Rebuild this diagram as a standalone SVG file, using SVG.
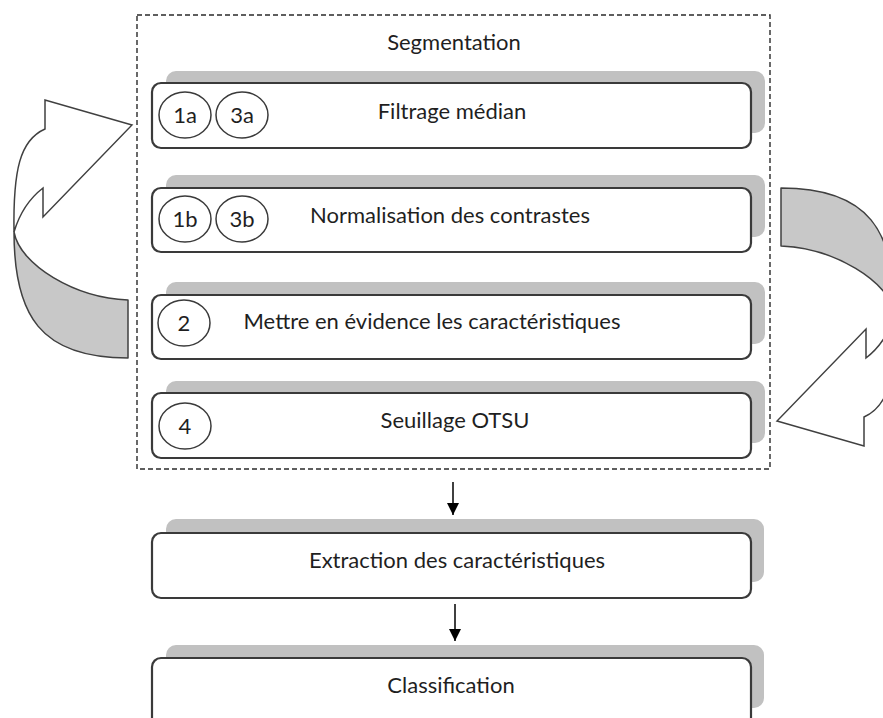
<svg xmlns="http://www.w3.org/2000/svg" width="883" height="718" viewBox="0 0 883 718">
<style>
  .shadow { fill: #c1c1c1; }
  .box { fill: #ffffff; stroke: #3a3a3a; stroke-width: 2.2; }
  .badge { fill: #ffffff; stroke: #3a3a3a; stroke-width: 1.5; }
  .lbl { font-family: Lato, "Liberation Sans", sans-serif; font-size: 22px; fill: #1f1f1f; text-anchor: middle; }
  .frame { fill: none; stroke: #2a2a2a; stroke-width: 1.4; stroke-dasharray: 5 3; }
  .conn { stroke: #000000; stroke-width: 1.5; fill: none; }
  .band-back { fill: #c8c8c8; stroke: #404040; stroke-width: 1.5; stroke-linejoin: round; }
  .band-front { fill: #ffffff; stroke: #404040; stroke-width: 1.5; stroke-linejoin: miter; }
</style>
<defs>
  <marker id="arrow" viewBox="0 0 12 12" refX="12" refY="6" markerWidth="12" markerHeight="12" markerUnits="userSpaceOnUse" orient="auto">
    <path d="M0,0 L12,6 L0,12 Z" fill="#000000"/>
  </marker>
  <g id="loop">
    <path class="band-back" d="M14,232 C14,315 40,358 128,358 L128,300 C75,298 20,265 14,232 Z"/>
    <path class="band-front" d="M132,125 L45,100 L45,129 C20,140 13,170 14,232 C20,212 30,198 43,188 L43,217 Z"/>
  </g>
</defs>
<rect width="883" height="718" fill="#ffffff"/>

<g id="segmentation">
  <rect class="frame" x="137" y="15" width="633" height="454"/>
  <text class="lbl" x="454" y="50">Segmentation</text>
</g>

<g id="n-filtrage">
  <rect class="shadow" x="166" y="71" width="599" height="62" rx="10"/>
  <rect class="box" x="152" y="83" width="599" height="65" rx="9"/>
  <ellipse class="badge" cx="185" cy="115" rx="26" ry="23"/>
  <text class="lbl" x="185" y="123">1a</text>
  <ellipse class="badge" cx="242" cy="115" rx="26" ry="23"/>
  <text class="lbl" x="242" y="123">3a</text>
  <text class="lbl" x="452" y="119">Filtrage médian</text>
</g>

<g id="n-normalisation">
  <rect class="shadow" x="166" y="175" width="599" height="62" rx="10"/>
  <rect class="box" x="152" y="188" width="599" height="64" rx="9"/>
  <ellipse class="badge" cx="185" cy="219" rx="26" ry="23"/>
  <text class="lbl" x="185" y="227">1b</text>
  <ellipse class="badge" cx="242" cy="219" rx="26" ry="23"/>
  <text class="lbl" x="242" y="227">3b</text>
  <text class="lbl" x="450" y="223">Normalisation des contrastes</text>
</g>

<g id="n-mettre">
  <rect class="shadow" x="166" y="282" width="599" height="62" rx="10"/>
  <rect class="box" x="152" y="295" width="599" height="64" rx="9"/>
  <ellipse class="badge" cx="184" cy="323" rx="26" ry="23"/>
  <text class="lbl" x="184" y="331">2</text>
  <text class="lbl" x="432" y="329">Mettre en évidence les caractéristiques</text>
</g>

<g id="n-seuillage">
  <rect class="shadow" x="166" y="381" width="599" height="62" rx="10"/>
  <rect class="box" x="152" y="393" width="599" height="65" rx="9"/>
  <ellipse class="badge" cx="185" cy="426" rx="26" ry="23"/>
  <text class="lbl" x="185" y="434">4</text>
  <text class="lbl" x="455" y="428">Seuillage OTSU</text>
</g>

<g id="n-extraction">
  <rect class="shadow" x="166" y="519" width="598" height="63" rx="10"/>
  <rect class="box" x="152" y="533" width="599" height="65" rx="9"/>
  <text class="lbl" x="457" y="568">Extraction des caractéristiques</text>
</g>

<g id="n-classification">
  <rect class="shadow" x="166" y="645" width="598" height="63" rx="10"/>
  <rect class="box" x="152" y="658" width="599" height="70" rx="9"/>
  <text class="lbl" x="451" y="693">Classification</text>
</g>

<g id="connectors">
  <line class="conn" x1="453" y1="482" x2="453" y2="515" marker-end="url(#arrow)"/>
  <line class="conn" x1="455" y1="604" x2="455" y2="641" marker-end="url(#arrow)"/>
  <use href="#loop"/>
  <use href="#loop" transform="rotate(180 454.5 273)"/>
</g>
</svg>
